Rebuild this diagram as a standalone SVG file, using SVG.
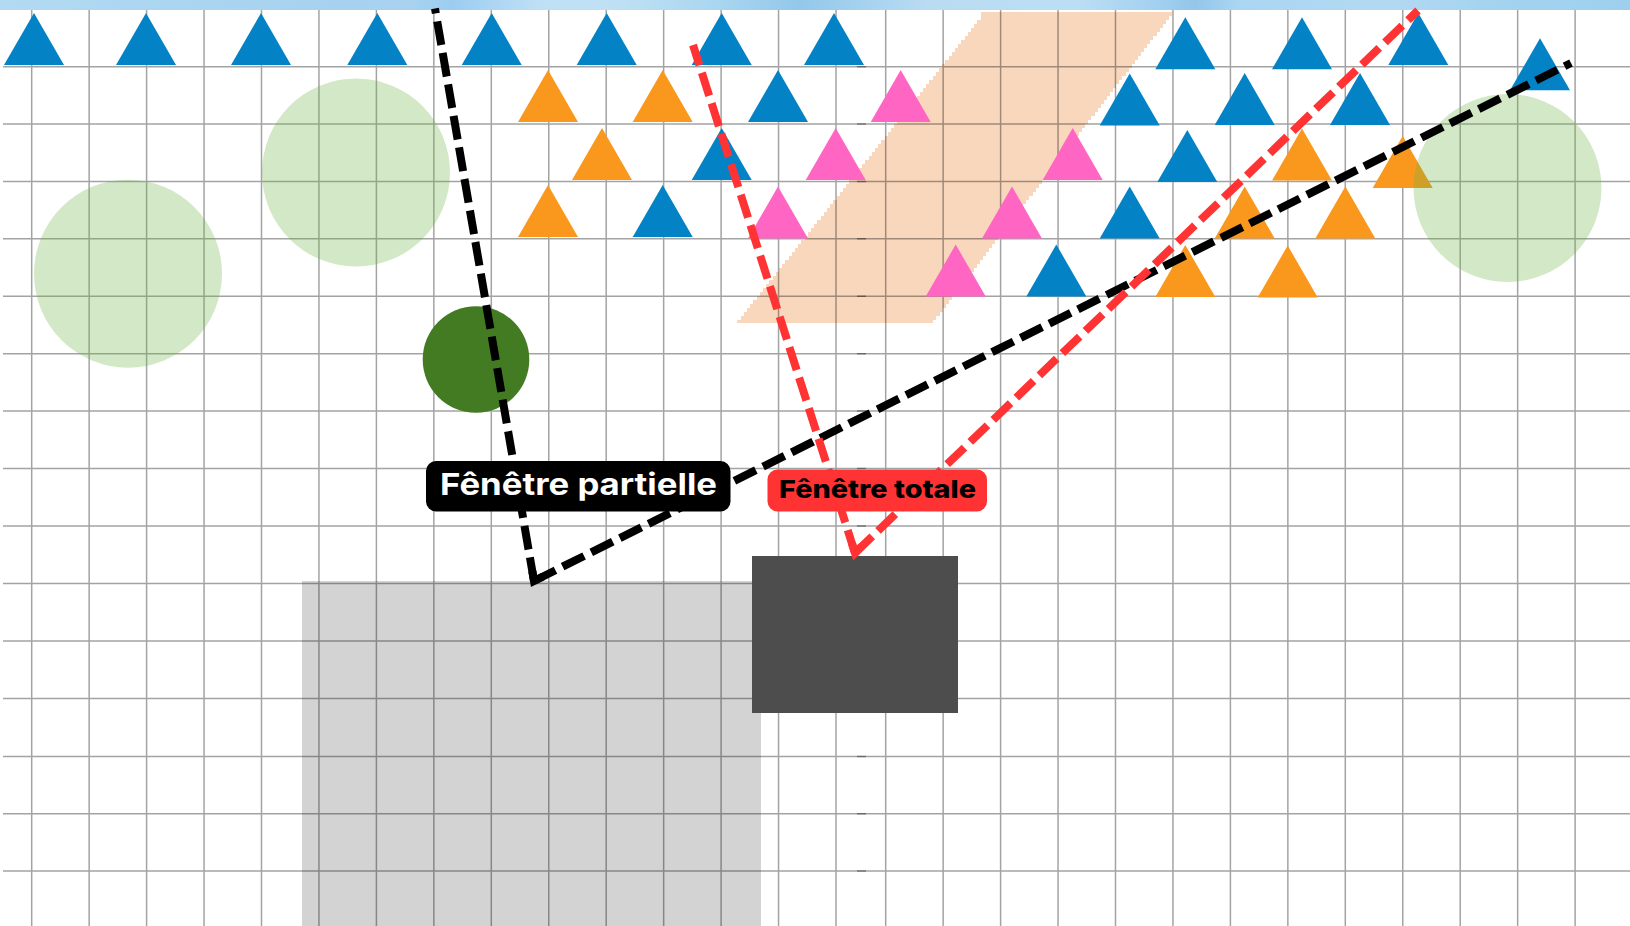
<svg xmlns="http://www.w3.org/2000/svg" width="1630" height="926" viewBox="0 0 1630 926">
<style>
.grid{fill:none;stroke:#000;stroke-opacity:.36;stroke-width:1.5}
.blue{fill:#0383c5}.orange{fill:#f9981d}.pink{fill:#ff66c4}
.soft{fill:#69b241;fill-opacity:.3}
.win{fill:none;stroke-width:8;stroke-dasharray:24 8}
.corner{fill:none;stroke-width:8;stroke-linejoin:miter;stroke-miterlimit:10}
.lbl{font-family:Inter,"Noto Sans",sans-serif}
</style>
<defs>
<linearGradient id="band" x1="0" x2="1" y1="0" y2="0">
<stop offset="0" stop-color="#b3daf3"/><stop offset=".1" stop-color="#abd6f0"/><stop offset=".21" stop-color="#a6d2ef"/><stop offset=".25" stop-color="#a9d2ef"/><stop offset=".278" stop-color="#9ccdf1"/><stop offset=".33" stop-color="#bfdff5"/><stop offset=".38" stop-color="#bfe0f4"/><stop offset=".44" stop-color="#a9d6f0"/><stop offset=".49" stop-color="#93c8ea"/><stop offset=".53" stop-color="#a6d2ee"/><stop offset=".57" stop-color="#badcf3"/><stop offset=".66" stop-color="#bcdef4"/><stop offset=".71" stop-color="#a3d0f0"/><stop offset=".733" stop-color="#93c6e9"/><stop offset=".76" stop-color="#aad6f1"/><stop offset=".85" stop-color="#b3d9f2"/><stop offset=".92" stop-color="#a3d3ee"/><stop offset="1" stop-color="#9ed0ee"/>
</linearGradient>
<polygon id="t" points="0,0 -30,52 30,52"/>
</defs>
<rect width="1630" height="926" fill="#fff"/>
<g id="peach-zone"><path fill="#f9d7bd" shape-rendering="crispEdges" d="M980 12H1172
v4h-3.1v4h-3.1v4h-3.1v4h-3.1v4h-3.1v4h-3.1v4h-3.1v4h-3.1v4h-3.1v4h-3.1
v4h-3.1v4h-3.1v4h-3.1v4h-3.1v4h-3.1v4h-3.1v4h-3.1v4h-3.1v4h-3.1v4h-3.1
v4h-3.1v4h-3.1v4h-3.1v4h-3.1v4h-3.1v4h-3.1v4h-3.1v4h-3.1v4h-3.1v4h-3.1
v4h-3.1v4h-3.1v4h-3.1v4h-3.1v4h-3.1v4h-3.1v4h-3.1v4h-3.1v4h-3.1v4h-3.1
v4h-3.1v4h-3.1v4h-3.1v4h-3.1v4h-3.1v4h-3.1v4h-3.1v4h-3.1v4h-3.1v4h-3.1
v4h-3.1v4h-3.1v4h-3.1v4h-3.1v4h-3.1v4h-3.1v4h-3.1v4h-3.1v4h-3.1v4h-3.1
v4h-3.1v4h-3.1v4h-3.1v4h-3.1v4h-3.1v4h-3.1v4h-3.1v4h-3.1v4h-3.1v4h-3.1
v4h-3.1v4h-3.1v4h-3.1v4h-3.1v4h-3.1v4h-3.1v4h-3.1
V322.7H737.3
v-2.7h3.2v-4h3.2v-4h3.2v-4h3.2v-4h3.2v-4h3.2v-4h3.2v-4h3.2v-4h3.2
v-4h3.2v-4h3.2v-4h3.2v-4h3.2v-4h3.2v-4h3.2v-4h3.2v-4h3.2v-4h3.2v-4h3.2
v-4h3.2v-4h3.2v-4h3.2v-4h3.2v-4h3.2v-4h3.2v-4h3.2v-4h3.2v-4h3.2v-4h3.2
v-4h3.2v-4h3.2v-4h3.2v-4h3.2v-4h3.2v-4h3.2v-4h3.2v-4h3.2v-4h3.2v-4h3.2
v-4h3.2v-4h3.2v-4h3.2v-4h3.2v-4h3.2v-4h3.2v-4h3.2v-4h3.2v-4h3.2v-4h3.2
v-4h3.2v-4h3.2v-4h3.2v-4h3.2v-4h3.2v-4h3.2v-4h3.2v-4h3.2v-4h3.2v-4h3.2
v-4h3.2v-4h3.2v-4h3.2v-4h3.2v-4h3.2v-4h3.2v-4h3.2v-4h3.2v-4h3.2v-4h3.2
v-4h3.2v-4h3.2v-4h3.2v-4h3.2v-4h3.2v-4h3.2v-4h3.2
V12Z"/></g>
<g id="zone-gray"><rect x="302" y="581" width="459" height="345" fill="#d3d3d3"/></g>
<g id="grid">
<path class="grid" d="M3 66.7H866M3 124.1H866M3 181.4H866M3 238.7H866M3 296.2H866M3 353.7H866M3 411H866M3 468.4H866M3 526H866M3 583.6H866M3 641H866M3 698.4H866M3 756.5H866M3 813.8H866M3 871H866M31.7 10V926M89.15 10V926M146.6 10V926M204.05 10V926M261.5 10V926M318.95 10V926M376.4 10V926M433.85 10V926M491.3 10V926M548.75 10V926M606.2 10V926M663.65 10V926M721.1 10V926M778.55 10V926M836 10V926"/>
<path class="grid" d="M857 66.7H1630M857 124.1H1630M857 181.4H1630M857 238.7H1630M857 296.2H1630M857 353.7H1630M857 411H1630M857 468.4H1630M857 526H1630M857 583.6H1630M857 641H1630M857 698.4H1630M857 756.5H1630M857 813.8H1630M857 871H1630M885.7 10V926M943.15 10V926M1000.6 10V926M1058.05 10V926M1115.5 10V926M1172.95 10V926M1230.4 10V926M1287.85 10V926M1345.3 10V926M1402.75 10V926M1460.2 10V926M1517.65 10V926M1575.1 10V926"/>
</g>
<g id="top-band"><rect width="1630" height="10" fill="url(#band)"/></g>
<g id="triangles">
<g class="blue">
<use href="#t" x="34" y="13"/><use href="#t" x="146" y="13"/><use href="#t" x="261" y="13"/><use href="#t" x="377.3" y="13"/><use href="#t" x="491.7" y="13"/><use href="#t" x="606.7" y="13"/><use href="#t" x="721.7" y="13"/><use href="#t" x="834" y="13"/>
<use href="#t" x="778" y="70"/><use href="#t" x="721.7" y="128"/><use href="#t" x="662.7" y="185"/>
<use href="#t" x="1185.3" y="17.3"/><use href="#t" x="1302" y="17.3"/><use href="#t" x="1418.3" y="13"/><use href="#t" x="1540" y="38.3"/>
<use href="#t" x="1129.7" y="73.5"/><use href="#t" x="1244.7" y="73"/><use href="#t" x="1360" y="73"/>
<use href="#t" x="1187.3" y="130"/><use href="#t" x="1129.7" y="186.5"/><use href="#t" x="1056.3" y="244.5"/>
</g>
<g class="orange">
<use href="#t" x="548" y="70"/><use href="#t" x="662.7" y="70"/><use href="#t" x="602" y="128"/><use href="#t" x="548" y="185"/>
<use href="#t" x="1302" y="128.500"/><use href="#t" x="1402.7" y="136"/><use href="#t" x="1244.7" y="186.5"/><use href="#t" x="1345.3" y="186.5"/><use href="#t" x="1185.3" y="245"/><use href="#t" x="1287.7" y="245.5"/>
</g>
<g class="pink">
<use href="#t" x="900.7" y="70"/><use href="#t" x="835.7" y="128"/><use href="#t" x="1072.7" y="128"/><use href="#t" x="778" y="186.5"/><use href="#t" x="1012" y="186.5"/><use href="#t" x="955.7" y="244.5"/>
</g>
</g>
<g id="circle-a"><circle class="soft" cx="128" cy="273.7" r="94"/></g>
<g id="circle-b"><circle class="soft" cx="356" cy="172.5" r="94"/></g>
<g id="circle-c"><circle class="soft" cx="1507.5" cy="188" r="94"/></g>
<g id="circle-dark"><circle cx="476" cy="359.5" r="53.3" fill="#427b22"/></g>
<g id="block-dark"><rect x="752" y="556" width="206" height="157" fill="#4d4d4d"/></g>
<g id="connectors">
<g stroke="#000">
<path class="win" d="M534 581L435 8.500"/>
<path class="win" d="M534 581L1571 63"/>
<polyline class="corner" points="532.3,571.1 534,581 543,576.500"/>
</g>
<g stroke="#f33">
<path class="win" d="M855 553L693 45"/>
<path class="win" d="M855 553L1418 10.500"/>
<polyline class="corner" points="852,543.500 855,553 862,546"/>
</g>
</g>
<g id="label-partielle">
<rect x="426" y="461" width="304.500" height="50.500" rx="10" fill="#000"/>
<text class="lbl" x="440" y="495" font-size="30" font-weight="700" fill="#fff" textLength="277" lengthAdjust="spacingAndGlyphs">Fênêtre partielle</text>
</g>
<g id="label-totale">
<rect x="767.500" y="469.500" width="219.500" height="42" rx="10" fill="#f33"/>
<text class="lbl" x="779" y="498" font-size="25" font-weight="800" fill="#000" textLength="197" lengthAdjust="spacingAndGlyphs">Fênêtre totale</text>
</g>
</svg>
